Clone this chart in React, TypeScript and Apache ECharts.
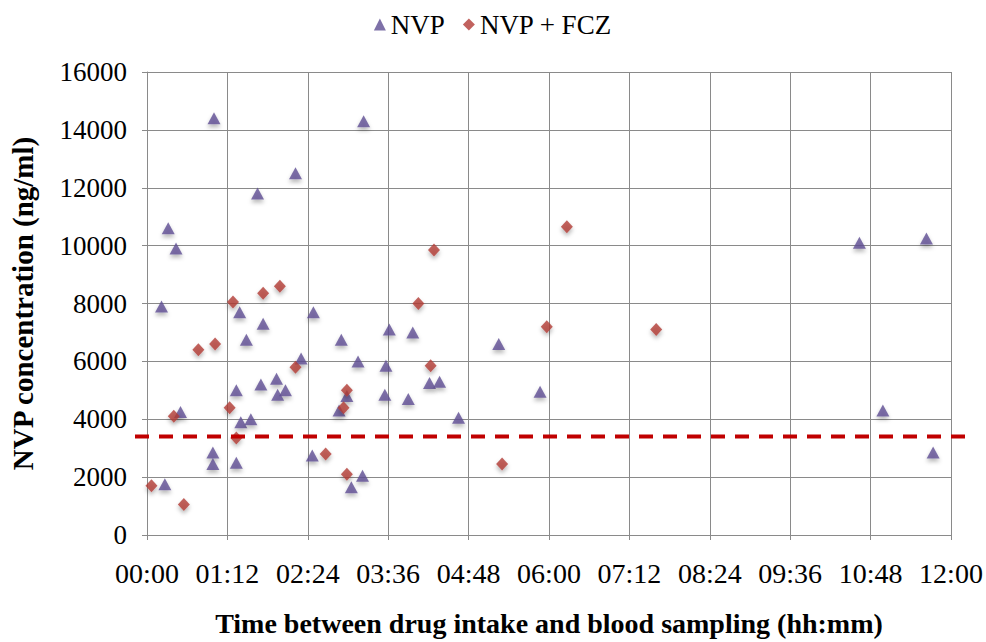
import React, { useEffect, useRef } from "react";
import * as echarts from "echarts";

// Time after intake in minutes, NVP concentration in ng/ml
const nvpMinutes = [60, 194, 133, 99, 19, 26, 13, 83, 149, 104, 217, 238, 89, 174, 138, 189, 214, 253, 262, 116, 102, 124, 117, 80, 30, 84, 93, 59, 59, 80, 148, 193, 183, 16, 179, 172, 213, 234, 315, 352, 279, 638, 698, 659, 704];
const nvpValues = [14400, 14300, 12500, 11800, 10600, 9900, 7900, 7700, 7700, 7300, 7100, 7000, 6750, 6750, 6100, 6000, 5850, 5250, 5300, 5400, 5200, 5000, 4850, 5000, 4250, 3900, 4000, 2850, 2450, 2500, 2750, 2050, 1650, 1750, 4800, 4300, 4850, 4700, 6600, 4950, 4050, 10100, 10250, 4300, 2850];

const fczMinutes = [257, 119, 104, 77, 243, 46, 61, 133, 254, 74, 24, 80, 160, 179, 4, 33, 179, 176, 358, 456, 318, 376];
const fczValues = [9850, 8600, 8350, 8050, 8000, 6400, 6600, 5800, 5850, 4400, 4100, 3350, 2800, 2100, 1700, 1050, 5000, 4400, 7200, 7100, 2450, 10650];

const seriesNames = ["NVP", "NVP + FCZ"];
const thresholdValue = 3400;

const xMin = 0;
const xMax = 720;
const xStep = 72;
const yMin = 0;
const yMax = 16000;
const yStep = 2000;

const xTitle = "Time between drug intake and blood sampling (hh:mm)";
const yTitle = "NVP concentration (ng/ml)";

const pad = (n: number) => (n < 10 ? "0" + n : "" + n);
const fmtTime = (v: number) => pad(Math.floor(v / 60)) + ":" + pad(Math.round(v % 60));

const FONT = "Liberation Serif";

export default function App() {
  const ref = useRef<HTMLDivElement>(null);
  useEffect(() => {
    if (!ref.current) return;
    const chart = echarts.init(ref.current, undefined, { renderer: "svg" });
    const gridColor = "#8a8a8a";
    const shadow = { shadowColor: "rgba(0,0,0,0.35)", shadowBlur: 4, shadowOffsetY: 3 };
    chart.setOption({
      animation: false,
      backgroundColor: "#ffffff",
      legend: {
        top: 6,
        left: "center",
        itemGap: 18,
        itemWidth: 12,
        itemHeight: 12,
        textStyle: { fontFamily: FONT, fontSize: 27, color: "#000" },
        data: [
          { name: seriesNames[0], icon: "triangle" },
          { name: seriesNames[1], icon: "diamond" },
        ],
      },
      grid: { left: 147, right: 35, top: 72, bottom: 105 },
      xAxis: {
        type: "value",
        min: xMin,
        max: xMax,
        interval: xStep,
        name: xTitle,
        nameLocation: "middle",
        nameGap: 74,
        nameTextStyle: { fontFamily: FONT, fontSize: 28, fontWeight: "bold", color: "#000" },
        axisLine: { show: true, lineStyle: { color: gridColor } },
        axisTick: { show: true, length: 5, lineStyle: { color: gridColor } },
        axisLabel: {
          margin: 24,
          fontFamily: FONT,
          fontSize: 28,
          color: "#000",
          formatter: (v: number) => fmtTime(v),
        },
        splitLine: { show: true, lineStyle: { color: gridColor, width: 1 } },
      },
      yAxis: {
        type: "value",
        min: yMin,
        max: yMax,
        interval: yStep,
        name: yTitle,
        nameLocation: "middle",
        nameGap: 110,
        nameTextStyle: { fontFamily: FONT, fontSize: 29, fontWeight: "bold", color: "#000" },
        axisLine: { show: true, lineStyle: { color: gridColor } },
        axisTick: { show: true, length: 5, lineStyle: { color: gridColor } },
        axisLabel: {
          margin: 20,
          fontFamily: FONT,
          fontSize: 27,
          color: "#000",
          formatter: (v: number) => String(v),
        },
        splitLine: { show: true, lineStyle: { color: gridColor, width: 1 } },
      },
      series: [
        {
          name: seriesNames[0],
          type: "scatter",
          symbol: "triangle",
          symbolSize: [13, 12],
          itemStyle: { color: "#5E4E92", ...shadow },
          data: nvpMinutes.map((m, i) => [m, nvpValues[i]]),
        },
        {
          name: seriesNames[1],
          type: "scatter",
          symbol: "diamond",
          symbolSize: [12, 13],
          itemStyle: { color: "#B23B36", ...shadow },
          data: fczMinutes.map((m, i) => [m, fczValues[i]]),
        },
      ],
    });
    const y = chart.convertToPixel({ yAxisIndex: 0 }, thresholdValue) as number;
    chart.setOption({
      graphic: [
        {
          type: "line",
          shape: { x1: 135, y1: y, x2: 966, y2: y },
          style: { stroke: "#C00000", lineWidth: 4, lineDash: [14, 10] },
          z: 10,
        },
      ],
    });
    return () => chart.dispose();
  }, []);
  return (
    <div
      ref={ref}
      style={{ position: "fixed", left: 0, top: 0, width: 986, height: 642 }}
    />
  );
}
